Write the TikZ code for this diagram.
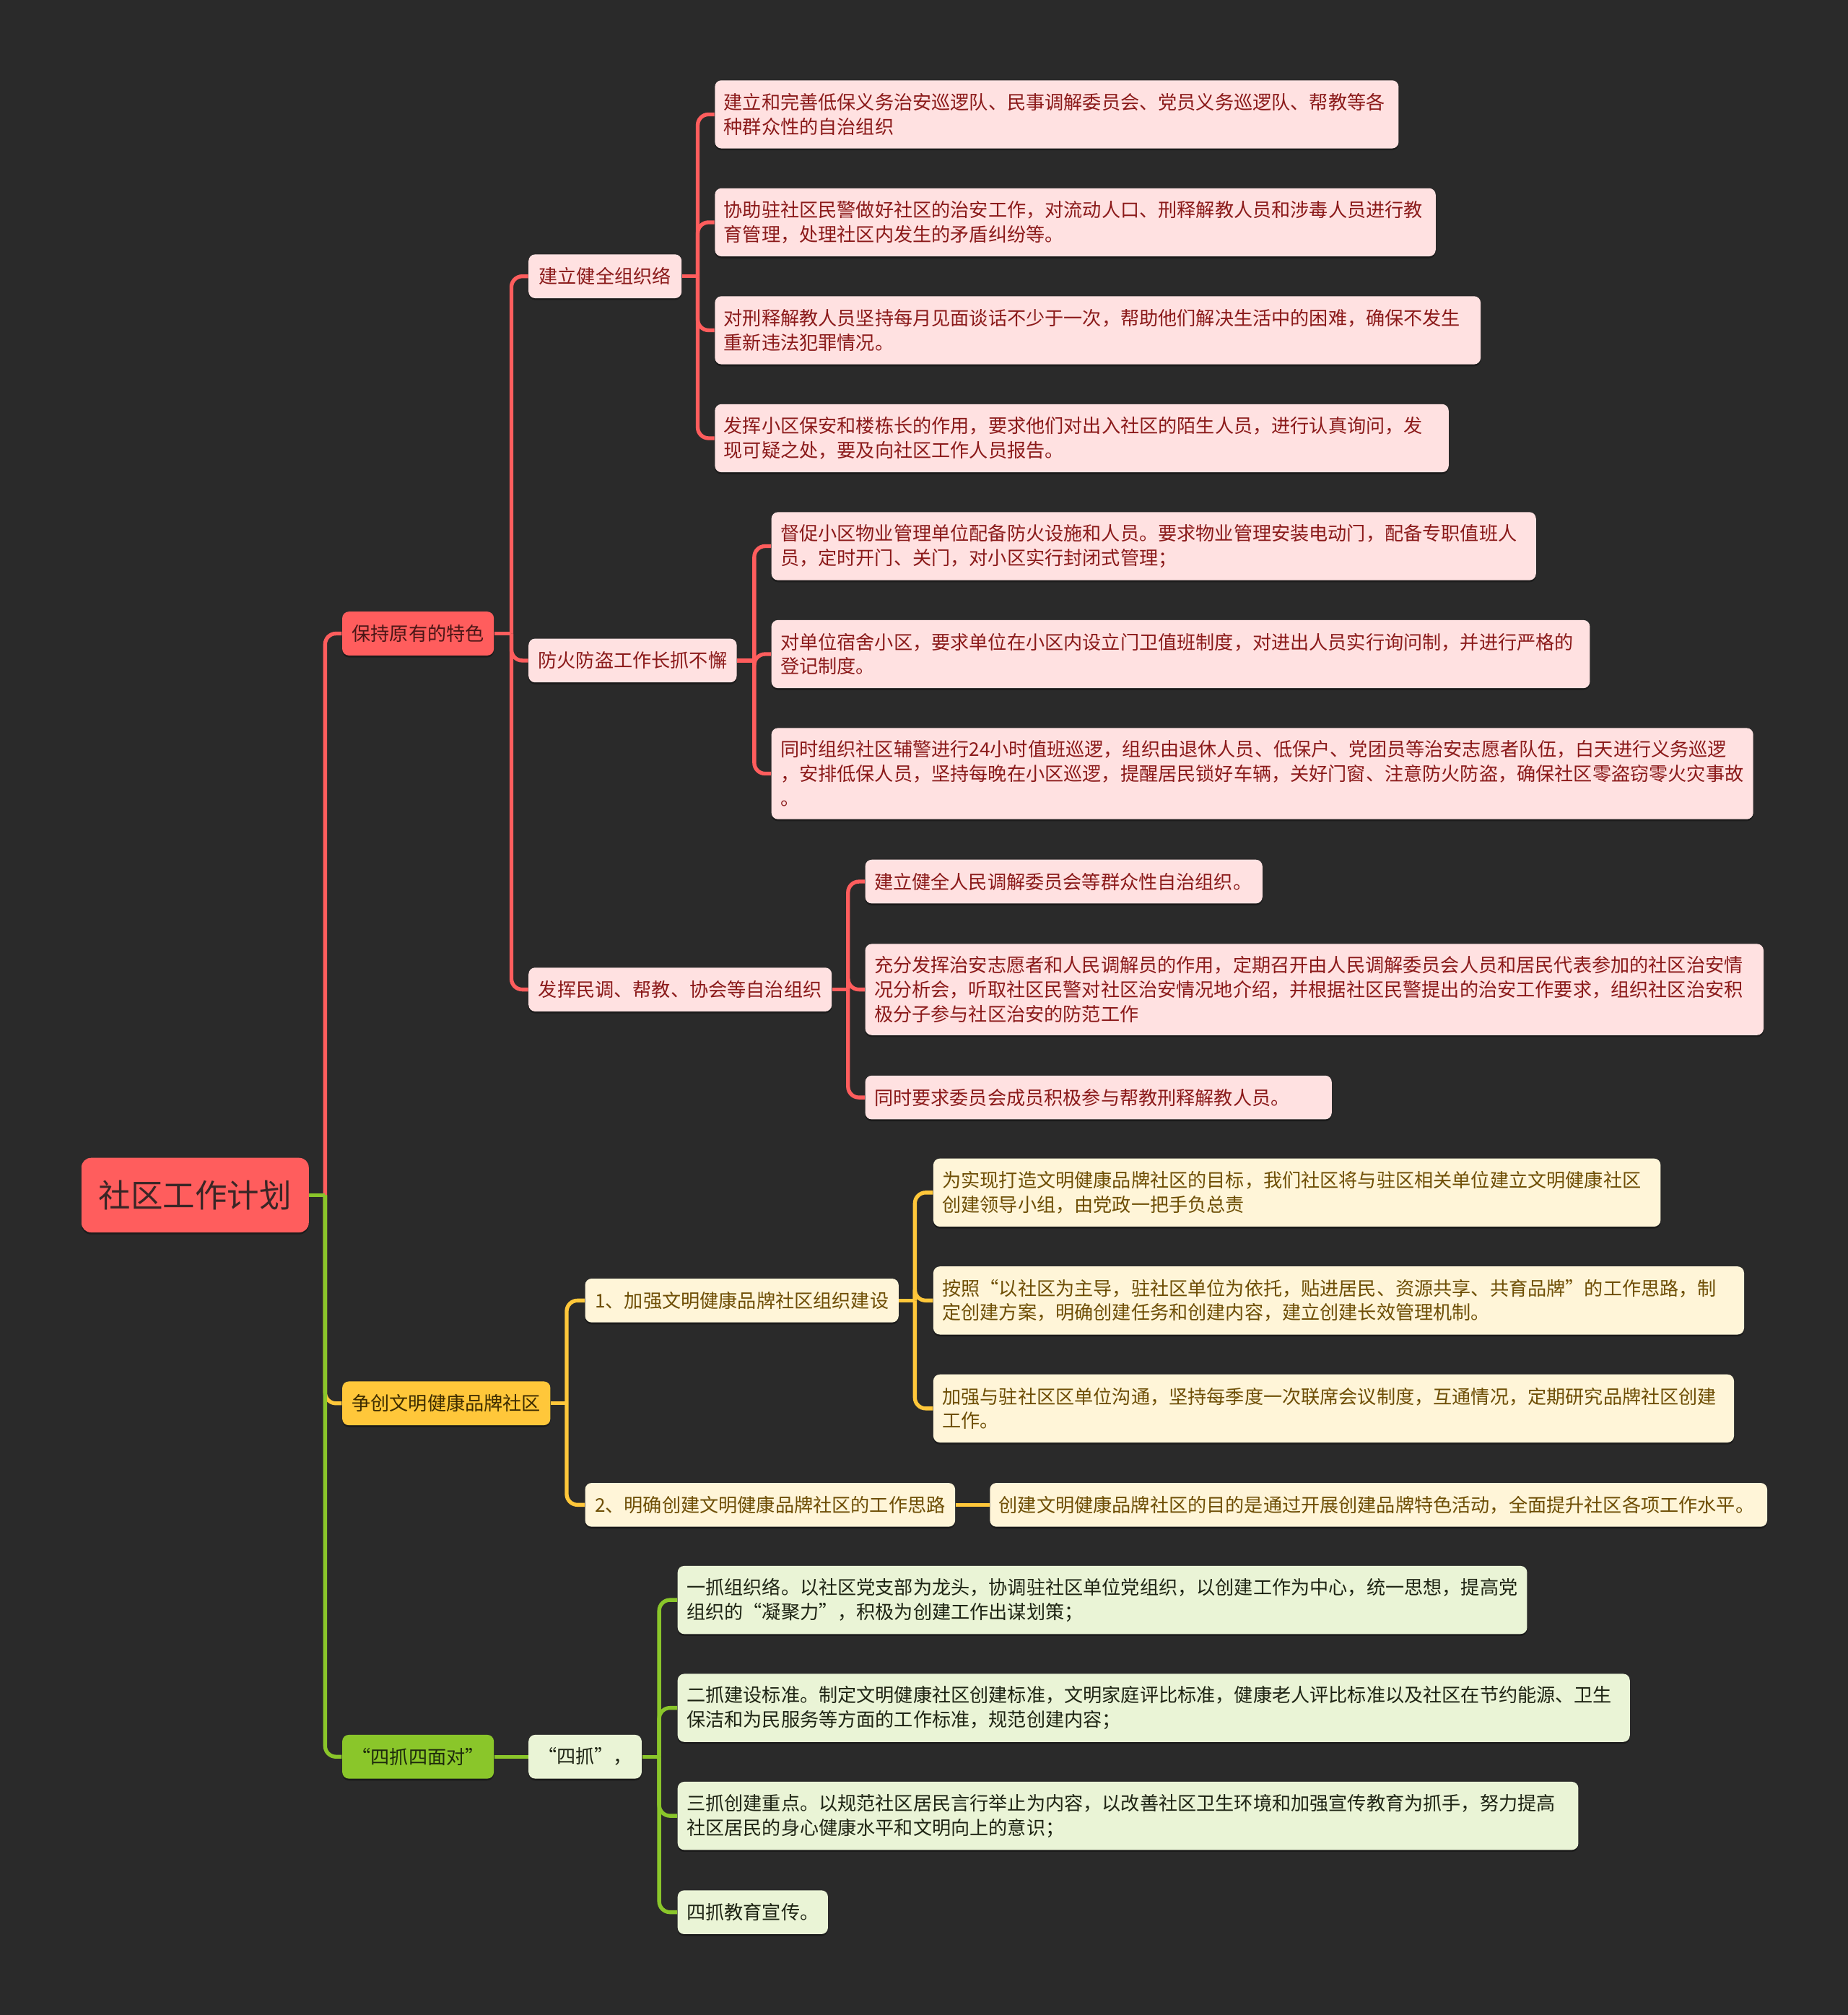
\documentclass[tikz,border=0pt]{standalone}
\usepackage{fontspec}
\setmainfont{Noto Sans CJK SC}
\usetikzlibrary{shadows}
\definecolor{bg}{HTML}{2A2A2A}
\definecolor{cRed}{HTML}{FF5D5D}
\definecolor{cPink}{HTML}{FFE1E1}
\definecolor{cRedTxt}{HTML}{8B1A1A}
\definecolor{cYel}{HTML}{FFC73A}
\definecolor{cCream}{HTML}{FFF5D8}
\definecolor{cYelTxt}{HTML}{6E4E05}
\definecolor{cGrn}{HTML}{8AC62A}
\definecolor{cLGrn}{HTML}{EAF4D6}
\definecolor{cGrnTxt}{HTML}{1E2414}
\tikzset{
  box/.style={rounded corners=2.7pt, inner xsep=3.74pt, inner ysep=2pt, anchor=west,
    font=\fontsize{7.85}{10.15}\selectfont,
    drop shadow={shadow xshift=0pt, shadow yshift=-0.8pt, opacity=0.35, fill=black}},
  one/.style={box, minimum height=18.2pt, align=center},
  leaf/.style={box, align=left},
  rootbox/.style={box, rounded corners=4pt, fill=cRed, text=HTML3A, minimum width=94.5pt, minimum height=31pt, font=\fontsize{13.35}{16}\selectfont},
  redA/.style={one, fill=cRed, text=cRedDark},
  redB/.style={fill=cPink, text=cRedTxt},
  yelA/.style={one, fill=cYel, text=cYelDark},
  yelB/.style={fill=cCream, text=cYelTxt},
  grnA/.style={one, fill=cGrn, text=cGrnDark},
  grnB/.style={fill=cLGrn, text=cGrnTxt},
  lnR/.style={draw=cRed, line width=1.6pt},
  lnY/.style={draw=cYel, line width=1.6pt},
  lnG/.style={draw=cGrn, line width=1.6pt},
  rc/.style={rounded corners=4.5pt},
}
\definecolor{HTML3A}{HTML}{3A2626}
\definecolor{cRedDark}{HTML}{4A1616}
\definecolor{cYelDark}{HTML}{3D2C00}
\definecolor{cGrnDark}{HTML}{1D2A0C}
\begin{document}
\begin{tikzpicture}[x=0.53409pt,y=-0.53409pt]
\fill[bg] (0,0) rectangle (1438,1568);
\useasboundingbox (0,0) rectangle (1438,1568);

% root
\node[rootbox] (root) at (63,930) {社区工作计划};

% level 1
\node[redA, minimum width=63pt] (k1) at (266,493) {保持原有的特色};
\node[yelA, minimum width=86.5pt] (k2) at (266,1092) {争创文明健康品牌社区};
\node[grnA, minimum width=63pt] (k3) at (266,1367) {“四抓四面对”};

% level 2 red
\node[one, redB, minimum width=63.6pt] (r1) at (411,215) {建立健全组织络};
\node[one, redB, minimum width=86.5pt] (r2) at (411,514) {防火防盗工作长抓不懈};
\node[one, redB, minimum width=126pt] (r3) at (411,770) {发挥民调、帮教、协会等自治组织};

% leaves under r1
\node[leaf, redB, text width=276.7pt, minimum height=28.3pt] (a1) at (556,89) {建立和完善低保义务治安巡逻队、民事调解委员会、党员义务巡逻队、帮教等各\\种群众性的自治组织};
\node[leaf, redB, text width=292.1pt, minimum height=28.3pt] (a2) at (556,173) {协助驻社区民警做好社区的治安工作，对流动人口、刑释解教人员和涉毒人员进行教\\育管理，处理社区内发生的矛盾纠纷等。};
\node[leaf, redB, text width=310.8pt, minimum height=28.3pt] (a3) at (556,257) {对刑释解教人员坚持每月见面谈话不少于一次，帮助他们解决生活中的困难，确保不发生\\重新违法犯罪情况。};
\node[leaf, redB, text width=297.5pt, minimum height=28.3pt] (a4) at (556,341) {发挥小区保安和楼栋长的作用，要求他们对出入社区的陌生人员，进行认真询问，发\\现可疑之处，要及向社区工作人员报告。};

% leaves under r2
\node[leaf, redB, text width=310.3pt, minimum height=28.3pt] (b1) at (600,425) {督促小区物业管理单位配备防火设施和人员。要求物业管理安装电动门，配备专职值班人\\员，定时开门、关门，对小区实行封闭式管理；};
\node[leaf, redB, text width=332.7pt, minimum height=28.3pt] (b2) at (600,509) {对单位宿舍小区，要求单位在小区内设立门卫值班制度，对进出人员实行询问制，并进行严格的\\登记制度。};
\node[leaf, redB, text width=400.6pt, minimum height=37.9pt] (b3) at (600,602) {同时组织社区辅警进行24小时值班巡逻，组织由退休人员、低保户、党团员等治安志愿者队伍，白天进行义务巡逻\\，安排低保人员，坚持每晚在小区巡逻，提醒居民锁好车辆，关好门窗、注意防火防盗，确保社区零盗窃零火灾事故\\。};

% leaves under r3
\node[leaf, redB, text width=157.6pt, minimum height=18.2pt] (c1) at (673,686) {建立健全人民调解委员会等群众性自治组织。};
\node[leaf, redB, text width=365.9pt, minimum height=37.9pt] (c2) at (673,770) {充分发挥治安志愿者和人民调解员的作用，定期召开由人民调解委员会人员和居民代表参加的社区治安情\\况分析会，听取社区民警对社区治安情况地介绍，并根据社区民警提出的治安工作要求，组织社区治安积\\极分子参与社区治安的防范工作};
\node[leaf, redB, text width=186.4pt, minimum height=18.2pt] (c3) at (673,854) {同时要求委员会成员积极参与帮教刑释解教人员。};

% level 2 yellow
\node[one, yelB, minimum width=130.3pt] (y1) at (455,1012) {1、加强文明健康品牌社区组织建设};
\node[one, yelB, minimum width=153.8pt] (y2) at (455,1171) {2、明确创建文明健康品牌社区的工作思路};

\node[leaf, yelB, text width=294.8pt, minimum height=28.3pt] (d1) at (726,928) {为实现打造文明健康品牌社区的目标，我们社区将与驻区相关单位建立文明健康社区\\创建领导小组，由党政一把手负总责};
\node[leaf, yelB, text width=329.5pt, minimum height=28.3pt] (d2) at (726,1012) {按照“以社区为主导，驻社区单位为依托，贴进居民、资源共享、共育品牌”的工作思路，制\\定创建方案，明确创建任务和创建内容，建立创建长效管理机制。};
\node[leaf, yelB, text width=325.3pt, minimum height=28.3pt] (d3) at (726,1096) {加强与驻社区区单位沟通，坚持每季度一次联席会议制度，互通情况，定期研究品牌社区创建\\工作。};
\node[leaf, yelB, text width=315.6pt, minimum height=18.2pt] (d4) at (770,1171) {创建文明健康品牌社区的目的是通过开展创建品牌特色活动，全面提升社区各项工作水平。};

% level 2 green
\node[one, grnB, minimum width=47pt] (g0) at (411,1367) {“四抓”，};
\node[leaf, grnB, text width=345.6pt, minimum height=28.3pt] (e1) at (527,1245) {一抓组织络。以社区党支部为龙头，协调驻社区单位党组织，以创建工作为中心，统一思想，提高党\\组织的“凝聚力”，积极为创建工作出谋划策；};
\node[leaf, grnB, text width=388.3pt, minimum height=28.3pt] (e2) at (527,1329) {二抓建设标准。制定文明健康社区创建标准，文明家庭评比标准，健康老人评比标准以及社区在节约能源、卫生\\保洁和为民服务等方面的工作标准，规范创建内容；};
\node[leaf, grnB, text width=366.9pt, minimum height=28.3pt] (e3) at (527,1413) {三抓创建重点。以规范社区居民言行举止为内容，以改善社区卫生环境和加强宣传教育为抓手，努力提高\\社区居民的身心健康水平和文明向上的意识；};
\node[leaf, grnB, text width=55pt, minimum height=18.2pt] (e4) at (527,1488) {四抓教育宣传。};

% junction coordinates
\coordinate (j0) at (253,930);
\coordinate (jk1) at (398,493);
\coordinate (jr1) at (543,215);
\coordinate (jr2) at (587,514);
\coordinate (jr3) at (660,770);
\coordinate (jk2) at (441,1092);
\coordinate (jy1) at (712,1012);
\coordinate (jg0) at (513,1367);

% connectors (behind boxes is fine; boxes drawn first but lines end at edges)
\draw[lnR] (root.east) -- (j0);
\draw[lnR, rc] (j0) |- (k1.west);
\draw[lnY, rc] (j0) |- (k2.west);
\draw[lnG] (root.east) -- (j0);
\draw[lnG, rc] (j0) |- (k3.west);

\draw[lnR] (k1.east) -- (jk1);
\draw[lnR, rc] (jk1) |- (r1.west);
\draw[lnR, rc] (jk1) |- (r2.west);
\draw[lnR, rc] (jk1) |- (r3.west);

\draw[lnR] (r1.east) -- (jr1);
\draw[lnR, rc] (jr1) |- (a1.west);
\draw[lnR, rc] (jr1) |- (a2.west);
\draw[lnR, rc] (jr1) |- (a3.west);
\draw[lnR, rc] (jr1) |- (a4.west);

\draw[lnR] (r2.east) -- (jr2);
\draw[lnR, rc] (jr2) |- (b1.west);
\draw[lnR, rc] (jr2) |- (b2.west);
\draw[lnR, rc] (jr2) |- (b3.west);

\draw[lnR] (r3.east) -- (jr3);
\draw[lnR, rc] (jr3) |- (c1.west);
\draw[lnR, rc] (jr3) |- (c2.west);
\draw[lnR, rc] (jr3) |- (c3.west);

\draw[lnY] (k2.east) -- (jk2);
\draw[lnY, rc] (jk2) |- (y1.west);
\draw[lnY, rc] (jk2) |- (y2.west);

\draw[lnY] (y1.east) -- (jy1);
\draw[lnY, rc] (jy1) |- (d1.west);
\draw[lnY, rc] (jy1) |- (d2.west);
\draw[lnY, rc] (jy1) |- (d3.west);
\draw[lnY] (y2.east) -- (d4.west);

\draw[lnG] (k3.east) -- (g0.west);
\draw[lnG] (g0.east) -- (jg0);
\draw[lnG, rc] (jg0) |- (e1.west);
\draw[lnG, rc] (jg0) |- (e2.west);
\draw[lnG, rc] (jg0) |- (e3.west);
\draw[lnG, rc] (jg0) |- (e4.west);
\end{tikzpicture}
\end{document}
